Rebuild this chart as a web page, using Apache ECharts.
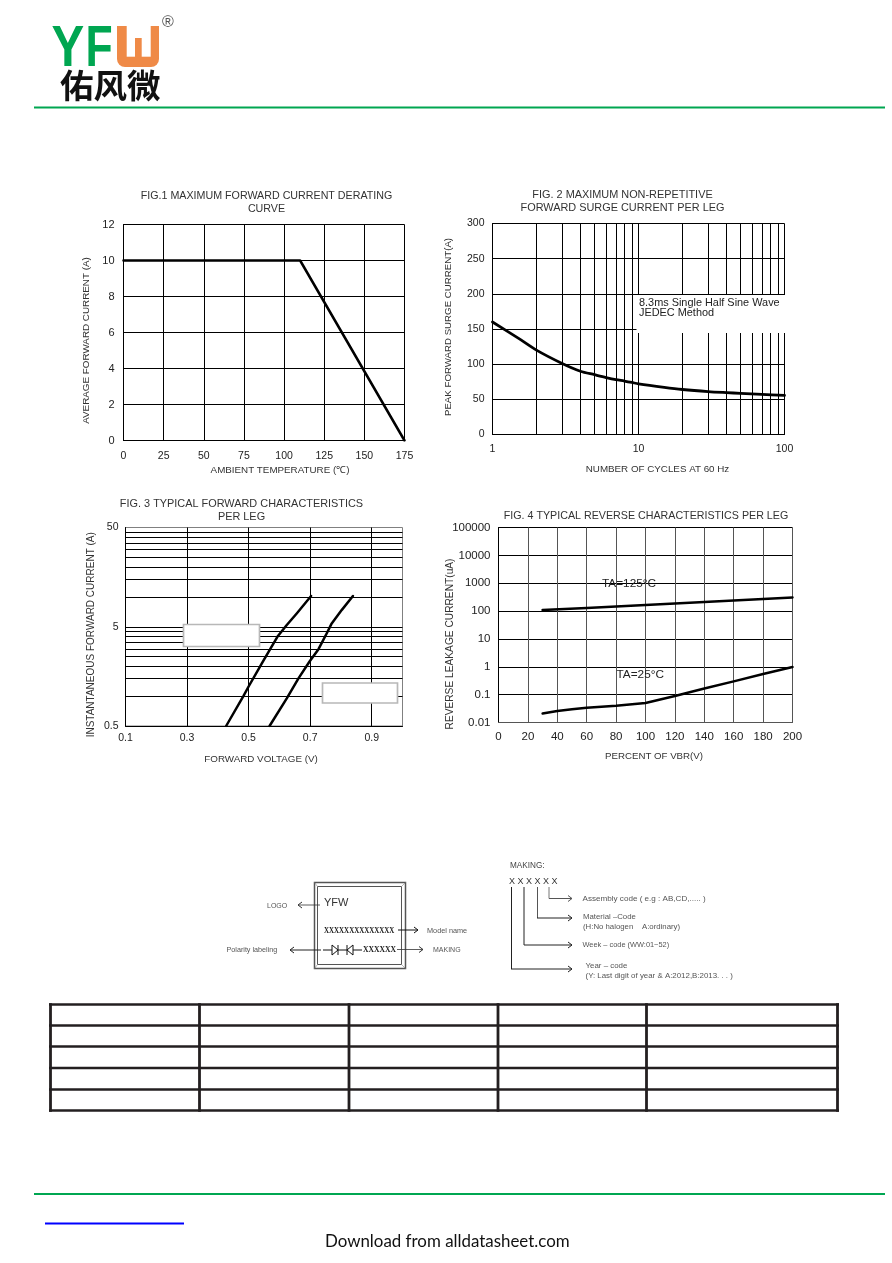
<!DOCTYPE html>
<html><head><meta charset="utf-8">
<style>html,body{margin:0;padding:0;background:#fff}#c{width:892px;height:1263px}</style>
<script src="https://cdn.jsdelivr.net/npm/echarts@6/dist/echarts.min.js"></script>
</head><body><div id="c"></div>
<script>
// ---- Fig 1
const fig1Points = [[0,10],[110,10],[175,0]];
// ---- Fig 2
const fig2Points = [[1,160],[1.5,137],[2,120],[3,101],[4,90],[5,85],[6,81],[7,78],[8,76],[9,74],[10,72],[15,67],[20,64],[30,61],[40,59.5],[50,58.5],[70,57],[100,55.5]];
const fig2MinorX = [2,3,4,5,6,7,8,9,20,30,40,50,60,70,80,90];
// ---- Fig 3
const fig3Left = [[0.427,0.5],[0.483,1.0],[0.5,1.25],[0.543,2.14],[0.57,2.97],[0.594,3.98],[0.624,5.2],[0.657,6.84],[0.703,10.2]];
const fig3Right = [[0.568,0.5],[0.624,0.95],[0.662,1.51],[0.698,2.23],[0.727,2.97],[0.754,4.3],[0.77,5.4],[0.803,7.4],[0.839,10.2]];
const fig3GridY = [1,1.5,2,2.5,3,3.5,4,4.5,5,10,15,20,25,30,35,40,45];
const fig3GridX = [0.3,0.5,0.7,0.9];
const fig3LabelsX = [0.1,0.3,0.5,0.7,0.9];
const fig3LabelsY = [0.5,5,50];
// ---- Fig 4
const fig4T125 = [[30,110],[60,130],[100,165],[140,210],[200,310]];
const fig4T25 = [[30,0.021],[40,0.026],[50,0.03],[60,0.034],[80,0.04],[100,0.05],[120,0.09],[140,0.165],[160,0.3],[180,0.55],[200,0.98]];

const FONT = '"Liberation Sans", Arial, sans-serif';
const chart = echarts.init(document.getElementById('c'), null, {renderer:'canvas'});

const grids = [
  {left:123.5, top:224.5, width:281, height:216},
  {left:492.5, top:223.5, width:292, height:211},
  {left:125.5, top:527.5, width:277, height:198.5, show:true, borderColor:'#808080', borderWidth:1},
  {left:498.5, top:527.5, width:294, height:195}
];
function axisBase(extra, labelSize, labelMargin, lineColor, nameSize, namePad){
  return Object.assign({
    axisLine:{show:true, onZero:false, lineStyle:{color:lineColor||'#000',width:1}},
    axisTick:{show:false},
    splitLine:{show:true, lineStyle:{color:lineColor||'#000',width:1}},
    axisLabel:{color:'#222', fontFamily:FONT, fontSize:labelSize, margin:labelMargin, showMinLabel:true, showMaxLabel:true, hideOverlap:false},
    nameLocation:'middle',
    nameMoveOverlap:false,
    nameTextStyle:{color:'#333', fontFamily:FONT, fontSize:nameSize||9.7, padding:namePad||0}
  }, extra);
}
const xAxes = [
  axisBase({gridIndex:0,type:'value',min:0,max:175,interval:25,name:'AMBIENT TEMPERATURE (℃)',nameGap:25},10.5,10,'#000',9.8,[0,0,0,32]),
  axisBase({gridIndex:1,type:'log',logBase:10,min:1,max:100,name:'NUMBER OF CYCLES AT 60 Hz',nameGap:30},10.5,9,'#000',9.8,[0,0,0,38]),
  axisBase({gridIndex:2,type:'value',min:0.1,max:1.0,name:'FORWARD VOLTAGE (V)',nameGap:28},10.5,7,'#000',9.8,[0,6,0,0]),
  axisBase({gridIndex:3,type:'value',min:0,max:200,interval:20,name:'PERCENT OF VBR(V)',nameGap:29},11.5,8,'#555',9.7,[0,0,0,17])
];
xAxes[2].splitLine.show=false;
xAxes[2].axisLabel.customValues=fig3LabelsX;
xAxes[2].axisLabel.formatter=v=>(+v).toFixed(1);
const yAxes = [
  axisBase({gridIndex:0,type:'value',min:0,max:12,interval:2,name:'AVERAGE FORWARD CURRENT (A)',nameGap:32},11,9,'#000',9.85,[0,16,0,0]),
  axisBase({gridIndex:1,type:'value',min:0,max:300,interval:50,name:'PEAK FORWARD SURGE CURRENT(A)',nameGap:39},10.5,8,'#000',9.7,[0,0,0,4]),
  axisBase({gridIndex:2,type:'log',logBase:10,min:0.5,max:50,name:'INSTANTANEOUS FORWARD CURRENT (A)',nameGap:29},10.5,7,'#000',10,[0,16,0,0]),
  axisBase({gridIndex:3,type:'log',logBase:10,min:0.01,max:100000,name:'REVERSE LEAKAGE CURRENT(uA)',nameGap:43},11.5,8,'#000',10.2,[0,38,0,0])
];
yAxes[2].splitLine.show=false;
yAxes[2].axisLabel.customValues=fig3LabelsY;
yAxes[2].axisLabel.formatter=v=>String(+(+v).toPrecision(3));
yAxes[3].axisLabel.formatter=v=>String(+(+v).toPrecision(3));
xAxes[1].axisLabel.formatter=v=>String(Math.round(v));

function curve(i,data,name,w,extra){
  return Object.assign({type:'line',name:name,xAxisIndex:i,yAxisIndex:i,data:data,showSymbol:false,symbol:'none',silent:true,
    lineStyle:{color:'#000',width:w||2.5,cap:'round',join:'round'},z:4},extra||{});
}
function rules(i,axisKey,vals,color){
  return {type:'line',xAxisIndex:i,yAxisIndex:i,data:[],silent:true,
    markLine:{silent:true,symbol:'none',animation:false,label:{show:false},lineStyle:{color:color||'#000',width:1,type:'solid'},
      emphasis:{disabled:true},data:vals.map(v=>({[axisKey]:v}))},z:2};
}
const series = [
  curve(0,fig1Points,'Derating',2.5),
  rules(1,'xAxis',fig2MinorX),
  curve(1,fig2Points,'Surge',2.8,{smooth:0.3}),
  rules(2,'xAxis',fig3GridX),
  rules(2,'yAxis',fig3GridY),
  curve(2,fig3Left,'Forward A',2.5),
  curve(2,fig3Right,'Forward B',2.5),
  curve(3,fig4T125,'TA=125°C',2.5),
  curve(3,fig4T25,'TA=25°C',2.5)
];

const titles = [
  {t:'FIG.1 MAXIMUM FORWARD CURRENT DERATING\nCURVE',x:266.5,y:190,s:10.7},
  {t:'FIG. 2 MAXIMUM NON-REPETITIVE\nFORWARD SURGE CURRENT PER LEG',x:622.5,y:188,s:10.9},
  {t:'FIG. 3 TYPICAL FORWARD CHARACTERISTICS\nPER LEG',x:241.5,y:497,s:10.9},
  {t:'FIG. 4 TYPICAL REVERSE CHARACTERISTICS PER LEG',x:646,y:509.5,s:10.7}
].map(o=>({text:o.t,left:o.x,top:o.y,textAlign:'center',padding:0,itemGap:0,
  textStyle:{fontFamily:FONT,fontSize:o.s,fontWeight:'normal',color:'#333',lineHeight:13}}));

// ---- page graphics
const g = [];
function line(x1,y1,x2,y2,color,w,z){g.push({type:'line',shape:{x1,y1,x2,y2},style:{stroke:color,lineWidth:w},z:z||6,silent:true});}
function txt(s,x,y,size,color,opt){g.push(Object.assign({type:'text',x,y,z:8,silent:true,style:Object.assign({text:s,fontFamily:FONT,fontSize:size,fill:color,align:'left',verticalAlign:'middle'},(opt&&opt.style)||{})},(opt&&opt.el)||{}));}
function rect(x,y,w,h,fill,stroke,lw,z,r){g.push({type:'rect',shape:{x,y,width:w,height:h,r:r||0},style:{fill,stroke:stroke||null,lineWidth:lw||0},z:z||6,silent:true});}
function arrow(x1,y,x2,color,w){
  line(x1,y,x2,y,color,w);
  const d=x2>x1?-1:1;
  g.push({type:'polyline',shape:{points:[[x2+d*4,y-3],[x2,y],[x2+d*4,y+3]]},style:{stroke:color,lineWidth:1,fill:null},z:6,silent:true});
}
const GREEN='#00a651';
line(34,107.5,885,107.5,GREEN,2);
line(34,1194,885,1194,GREEN,2);
line(45,1223.5,184,1223.5,'#0000ff',2);
txt('Download from alldatasheet.com',325,1241.5,16.9,'#111',{style:{fontFamily:'Lato,sans-serif'}});

// logo
txt('Y',51.5,50,57,GREEN,{style:{fontWeight:'bold'},el:{scaleX:0.86}});
txt('F',85.5,50,57,GREEN,{style:{fontWeight:'bold'},el:{scaleX:0.78}});
const OR='#ef8a47';
rect(117,26,42,41,OR,null,0,6,[0,0,8,8]);
rect(126.7,25,24,31.7,'#fff',null,0,7);
rect(135,38,6.7,19,OR,null,0,7);
txt('佑风微',60,85.5,33.5,'#111',{style:{fontFamily:'"Noto Sans CJK SC"',fontWeight:'bold'}});
txt('®',162,23,16,'#555');

// Fig.2 note
rect(636.5,295,150,38,'#fff');
txt('8.3ms Single Half Sine Wave',639,303,10.9,'#222');
txt('JEDEC Method',639,312.7,10.9,'#222');
// Fig.3 blank legend boxes
rect(183.5,624.5,76,22,'#fff','#b8b8b8',1.7);
rect(322.5,683,75,20,'#fff','#b8b8b8',1.7);
// Fig.4 labels
txt('TA=125°C',602,584,11.8,'#222');
txt('TA=25°C',616.5,675,11.8,'#222');

// package marking drawing
rect(314.5,882.5,91,86,'#fff','#555',1.5);
rect(317.5,886.5,84,78,'#fff','#555',1);
line(314.5,882.5,317.5,886.5,'#888',0.6);line(405.5,882.5,401.5,886.5,'#888',0.6);
line(314.5,968.5,317.5,964.5,'#888',0.6);line(405.5,968.5,401.5,964.5,'#888',0.6);
const T='#555';
txt('YFW',324,903,11,'#333');
txt('LOGO',267,906.5,7,T);
arrow(320,905,298,'#333',0.8);
txt('XXXXXXXXXXXXXX',324,930.5,8.6,'#222',{style:{fontFamily:'"Liberation Serif",serif',fontWeight:'bold'},el:{scaleX:0.81}});
arrow(398,930,418,'#111',1);
txt('Model name',427,930.5,7.3,T);
txt('Polarity labeling',226.5,950,7.2,T);
arrow(321,950,290,'#222',1);
line(323,950,362,950,'#111',1);
g.push({type:'polygon',shape:{points:[[332,945],[332,955],[338,950]]},style:{fill:'#fff',stroke:'#111',lineWidth:1},z:7,silent:true});
line(338,945,338,955,'#111',1);
g.push({type:'polygon',shape:{points:[[353,945],[353,955],[347,950]]},style:{fill:'#fff',stroke:'#111',lineWidth:1},z:7,silent:true});
line(347,945,347,955,'#111',1);
txt('XXXXXX',363,950,8.6,'#222',{style:{fontFamily:'"Liberation Serif",serif',fontWeight:'bold'},el:{scaleX:0.89}});
arrow(397,949.5,423,'#333',0.8);
txt('MAKING',433,950,7,T);

txt('MAKING:',510,865.5,8.2,'#444');
txt('X X X X X X',509,881.5,9,'#333');
line(511.5,887,511.5,969,'#222',1);arrow(511,969,572,'#222',1);
line(524,887,524,945,'#222',1);arrow(524,945,572,'#222',1);
line(537.5,887,537.5,918,'#555',1);arrow(537,918,572,'#222',1);
line(549,887,549,898.5,'#777',1);arrow(549,898.5,572,'#555',1);
txt('Assembly code ( e.g : AB,CD,..... )',582.5,898.5,8.1,T);
txt('Material –Code',583,916.5,7.8,T);
txt('(H:No halogen    A:ordinary)',583,927,7.8,T);
txt('Week – code (WW:01~52)',582.5,945,7.4,T);
txt('Year – code',585.5,966,7.9,T);
txt('(Y: Last digit of year & A:2012,B:2013. . . )',585.5,976,7.9,T);

// empty table frame
const TB='#231f20';
[1004.5,1025.5,1046.5,1068,1089.5,1110.5].forEach(y=>line(49,y,839,y,TB,2.6));
[50.5,199.5,349,498,646.5,837.5].forEach(x=>line(x,1003.2,x,1111.8,TB,2.8));

chart.setOption({
  animation:false,
  backgroundColor:'#fff',
  title:titles,
  grid:grids,
  xAxis:xAxes,
  yAxis:yAxes,
  series:series,
  graphic:{elements:g}
});
</script></body></html>
